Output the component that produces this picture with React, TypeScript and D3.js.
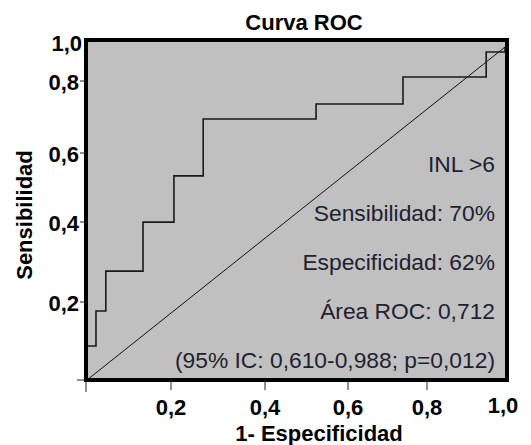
import React from "react";
import * as d3 from "d3";

// ROC curve corner points (1 - especificidad, sensibilidad)
const fpr = [0, 0.0215, 0.045, 0.134, 0.208, 0.278, 0.548, 0.756, 0.955, 1.0, 1.0];
const tpr = [0, 0.102, 0.207, 0.327, 0.474, 0.613, 0.784, 0.829, 0.91, 0.985, 1.0];

// tick labels as printed on the chart (hand placed, not evenly spaced)
const tickValues = [0, 0.2, 0.4, 0.6, 0.8, 1.0];
const xTickPixels = [86, 171, 265, 348, 427, 503];
const yTickPixels = [380, 302, 222, 153, 81, 40];

const notes = [
  "INL >6",
  "Sensibilidad: 70%",
  "Especificidad: 62%",
  "Área ROC: 0,712",
  "(95% IC: 0,610-0,988; p=0,012)",
];

const font = "'Liberation Sans', Arial, sans-serif";
const fmt = (v: number) => d3.format(".1f")(v).replace(".", ",");

export default function App() {
  const box = { left: 86, right: 507, top: 40, bottom: 380 };

  // data scales (plot area)
  const x = d3.scaleLinear().domain([0, 1]).range([87, 505]);
  const y = d3.scaleLinear().domain([0, 1]).range([380, 47]);

  // axis label scales
  const xAxis = d3.scaleLinear().domain(tickValues).range(xTickPixels);
  const yAxis = d3.scaleLinear().domain(tickValues).range(yTickPixels);

  const pts: [number, number][] = fpr.map((f, i) => [f, tpr[i]]);
  const line = d3
    .line<[number, number]>()
    .x((d) => x(d[0]))
    .y((d) => y(d[1]))
    .curve(d3.curveStepBefore);

  return (
    <svg
      width={531}
      height={445}
      style={{ position: "absolute", left: 0, top: 0, background: "#fff" }}
      fontFamily={font}
    >
      <text x={304} y={30} textAnchor="middle" fontSize={22} fontWeight="bold">
        Curva ROC
      </text>

      <rect
        x={box.left}
        y={box.top}
        width={box.right - box.left}
        height={box.bottom - box.top}
        fill="#c0c0c0"
      />

      {/* reference diagonal */}
      <line x1={x(0)} y1={y(0)} x2={x(1)} y2={y(1)} stroke="#111" strokeWidth={1} />

      {/* ROC step curve */}
      <path d={line(pts) || ""} fill="none" stroke="#1a1a1a" strokeWidth={1.6} />

      {/* annotations */}
      {notes.map((t, i) => (
        <text
          key={t}
          x={495}
          y={172 + i * 49}
          textAnchor="end"
          fontSize={22.8}
          fill="#1e2230"
        >
          {t}
        </text>
      ))}

      {/* frame */}
      <rect
        x={box.left}
        y={box.top}
        width={box.right - box.left}
        height={box.bottom - box.top}
        fill="none"
        stroke="#000"
        strokeWidth={4}
      />

      {/* y axis ticks */}
      {tickValues.slice(0, 5).map((v) => (
        <line
          key={"yt" + v}
          x1={v === 0 ? 77 : 80}
          x2={box.left}
          y1={yAxis(v)}
          y2={yAxis(v)}
          stroke="#222"
          strokeWidth={1}
        />
      ))}
      {tickValues.slice(1).map((v) => (
        <text
          key={"yl" + v}
          x={v === 1 ? 82 : 79}
          y={yAxis(v)}
          dy={v === 1 ? 11 : 8.5}
          textAnchor="end"
          fontSize={22}
          fontWeight="bold"
        >
          {fmt(v)}
        </text>
      ))}

      {/* x axis ticks */}
      {tickValues.slice(0, 5).map((v) => (
        <line
          key={"xt" + v}
          x1={xAxis(v)}
          x2={xAxis(v)}
          y1={box.bottom}
          y2={v === 0 ? 392 : 390}
          stroke="#222"
          strokeWidth={1}
        />
      ))}
      {tickValues.slice(1).map((v) => (
        <text
          key={"xl" + v}
          x={xAxis(v)}
          y={v === 1 ? 413 : 415}
          textAnchor="middle"
          fontSize={22}
          fontWeight="bold"
        >
          {fmt(v)}
        </text>
      ))}

      {/* axis titles */}
      <text x={319} y={441} textAnchor="middle" fontSize={22} fontWeight="bold">
        1- Especificidad
      </text>
      <text
        transform="translate(32,215) rotate(-90)"
        textAnchor="middle"
        fontSize={22}
        fontWeight="bold"
      >
        Sensibilidad
      </text>
    </svg>
  );
}
